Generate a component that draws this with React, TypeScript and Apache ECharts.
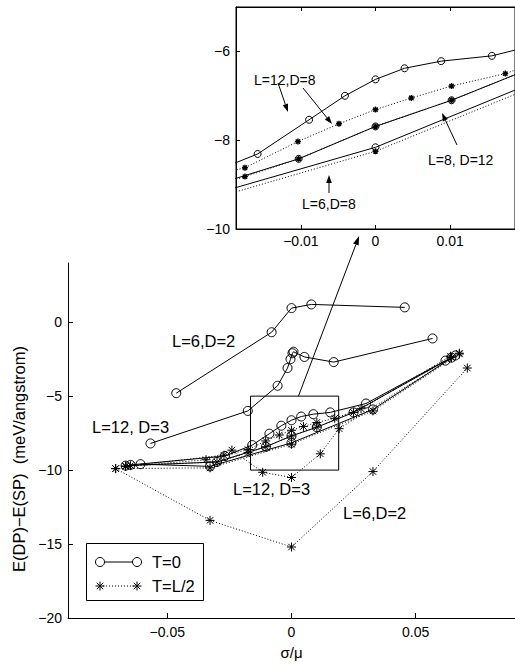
import React, { useEffect, useRef } from "react";
import * as echarts from "echarts";

// ---- tick values ----
const mainXTicks = [-0.05, 0, 0.05];
const mainYTicks = [-20, -15, -10, -5, 0];
const insetXTicks = [-0.01, 0, 0.01];
const insetYTicks = [-10, -8, -6];

// ---- T=0 (circles, solid) ----
const t0_L6D2 = [[-0.0464, -4.8], [-0.008, -0.68], [0, 0.95], [0.008, 1.2], [0.0456, 1.0]];
const t0_L12D3 = [[-0.0568, -8.2], [-0.0176, -6.0], [-0.0056, -4.3], [-0.0016, -3.1], [-0.0004, -2.5], [0.0004, -2.1], [0.0008, -2.0], [0.0052, -2.35], [0.017, -2.7], [0.0568, -1.1]];
const t0_L12D8 = [[-0.0648, -9.65], [-0.0268, -9.05], [-0.0158, -8.31], [-0.0089, -7.54], [-0.0041, -7.0], [0, -6.63], [0.0039, -6.38], [0.0088, -6.22], [0.0156, -6.1], [0.03, -5.5], [0.062, -2.6]];
const t0_L8D12 = [[-0.0668, -9.7], [-0.03, -9.45], [-0.0103, -8.42], [0, -7.69], [0.0102, -7.1], [0.025, -6.1], [0.0644, -2.4]];
const t0_L6D8 = [[-0.0608, -9.6], [-0.0328, -9.75], [0, -8.16], [0.0328, -5.9], [0.066, -2.25]];

// ---- T=L/2 (stars, dotted) ----
const tH_L6D2 = [[-0.0708, -9.9], [-0.0328, -13.4], [0, -15.2], [0.0328, -10.1], [0.0708, -3.1]];
const tH_L12D3 = [[-0.0668, -9.75], [-0.0344, -9.3], [-0.024, -8.65], [-0.0116, -10.15], [0, -10.5], [0.0116, -8.9], [0.0192, -7.2], [0.0676, -2.1]];
const tH_L12D8 = [[-0.0648, -9.7], [-0.0272, -9.0], [-0.0175, -8.62], [-0.0104, -8.03], [-0.0049, -7.63], [0, -7.31], [0.0048, -7.05], [0.0102, -6.78], [0.0174, -6.5], [0.028, -5.85], [0.064, -2.3]];
const tH_L8D12 = [[-0.0668, -9.72], [-0.03, -9.45], [-0.0175, -8.82], [-0.0103, -8.42], [0, -7.69], [0.0102, -7.1], [0.025, -6.1], [0.0644, -2.4]];
const tH_L6D8 = [[-0.0708, -9.9], [-0.0328, -9.85], [0, -8.25], [0.0328, -6.0], [0.0676, -2.15]];

// zoom rectangle [xmin, xmax, ymin, ymax]
const zoomBox = [-0.0165, 0.019, -10, -5];

const FONT = "'Liberation Sans', Arial, Helvetica, sans-serif";
const STAR = "path://M0,-5L0,5M-5,0L5,0M-3.6,-3.6L3.6,3.6M-3.6,3.6L3.6,-3.6";

const fmt = (v: number) => (v === 0 ? "0" : (v < 0 ? "\u2212" : "") + String(Math.abs(v)));

function circleSeries(data: number[][], gi: number, size: number) {
  return {
    type: "line",
    data,
    xAxisIndex: gi === 0 ? 0 : 1,
    yAxisIndex: gi,
    symbol: "circle",
    symbolSize: size,
    showAllSymbol: true,
    itemStyle: { color: "rgba(0,0,0,0)", borderColor: "#000", borderWidth: 1 },
    lineStyle: { color: "#000", width: 1, type: "solid" },
    silent: true,
    clip: true,
    z: 3,
  };
}
function starSeries(data: number[][], gi: number, size: number, lw: number) {
  return {
    type: "line",
    data,
    xAxisIndex: gi === 0 ? 0 : 1,
    yAxisIndex: gi,
    symbol: STAR,
    symbolSize: size,
    showAllSymbol: true,
    itemStyle: { color: "rgba(0,0,0,0)", borderColor: "#000", borderWidth: lw },
    lineStyle: { color: "#000", width: 1, type: [1, 2] },
    silent: true,
    clip: true,
    z: 3,
  };
}

function arrow(x1: number, y1: number, x2: number, y2: number, head = 8, w = 2.8) {
  const dx = x2 - x1, dy = y2 - y1, len = Math.hypot(dx, dy);
  const ux = dx / len, uy = dy / len;
  const bx = x2 - ux * head, by = y2 - uy * head;
  return [
    { type: "line", z: 10, shape: { x1, y1, x2: bx, y2: by }, style: { stroke: "#000", lineWidth: 1 } },
    { type: "polygon", z: 10, shape: { points: [[x2, y2], [bx - uy * w, by + ux * w], [bx + uy * w, by - ux * w]] }, style: { fill: "#000" } },
  ];
}
function starGlyph(cx: number, cy: number, r: number) {
  const d = r * 0.72;
  const segs = [[0, -r, 0, r], [-r, 0, r, 0], [-d, -d, d, d], [-d, d, d, -d]];
  return segs.map((s) => ({ type: "line", z: 12, shape: { x1: cx + s[0], y1: cy + s[1], x2: cx + s[2], y2: cy + s[3] }, style: { stroke: "#000", lineWidth: 1 } }));
}
function txt(text: string, x: number, y: number, align = "left", size = 14, rotation = 0) {
  return { type: "text", z: 12, x, y, rotation, style: { text, fill: "#000", font: `${size}px ${FONT}`, align, verticalAlign: "middle" } };
}

export default function App() {
  const ref = useRef<HTMLDivElement>(null);
  useEffect(() => {
    const chart = echarts.init(ref.current!, null, { renderer: "svg" });
    const axisCommon = {
      axisLine: { show: true, onZero: false, lineStyle: { color: "#000", width: 1 } },
      splitLine: { show: false },
    };
    const option: any = {
      animation: false,
      backgroundColor: "#fff",
      grid: [
        { left: 68, top: 263, width: 450, height: 355 },
        { left: 236, top: 7, width: 282, height: 222, show: true, backgroundColor: "#fff", borderColor: "#000", borderWidth: 1 },
      ],
      xAxis: [
        {
          type: "value", gridIndex: 0, min: -0.09, max: 0.09, ...axisCommon,
          axisTick: { show: true, inside: true, length: 5, lineStyle: { color: "#000" }, customValues: mainXTicks },
          axisLabel: { color: "#000", fontSize: 14, fontFamily: FONT, margin: 7, customValues: mainXTicks, formatter: fmt },
        },
        {
          type: "value", gridIndex: 1, min: -0.0187, max: 0.0187, ...axisCommon,
          axisTick: { show: true, inside: true, length: 4, lineStyle: { color: "#000" }, customValues: insetXTicks },
          axisLabel: { color: "#000", fontSize: 14, fontFamily: FONT, margin: 5, customValues: insetXTicks, formatter: fmt },
        },
        {
          type: "value", gridIndex: 1, position: "top", min: -0.0187, max: 0.0187, ...axisCommon,
          axisTick: { show: true, inside: true, length: 4, lineStyle: { color: "#000" }, customValues: insetXTicks },
          axisLabel: { show: false },
        },
      ],
      yAxis: [
        {
          type: "value", gridIndex: 0, min: -20, max: 4, ...axisCommon,
          axisTick: { show: true, inside: true, length: 5, lineStyle: { color: "#000" }, customValues: mainYTicks },
          axisLabel: { color: "#000", fontSize: 14, fontFamily: FONT, margin: 6, customValues: mainYTicks, formatter: fmt },
        },
        {
          type: "value", gridIndex: 1, min: -10, max: -5, ...axisCommon,
          axisTick: { show: true, inside: true, length: 4, lineStyle: { color: "#000" }, customValues: insetYTicks },
          axisLabel: { color: "#000", fontSize: 14, fontFamily: FONT, margin: 6, customValues: insetYTicks, formatter: fmt },
        },
      ],
      series: [
        // main
        circleSeries(t0_L6D2, 0, 9),
        circleSeries(t0_L12D3, 0, 9),
        circleSeries(t0_L12D8, 0, 9),
        circleSeries(t0_L8D12, 0, 9),
        circleSeries(t0_L6D8, 0, 9),
        starSeries(tH_L6D2, 0, 9, 1),
        starSeries(tH_L12D3, 0, 9, 1),
        starSeries(tH_L12D8, 0, 9, 1),
        starSeries(tH_L8D12, 0, 9, 1),
        starSeries(tH_L6D8, 0, 9, 1),
        {
          type: "line", xAxisIndex: 0, yAxisIndex: 0, symbol: "none", silent: true,
          data: [[zoomBox[0], zoomBox[3]], [zoomBox[1], zoomBox[3]], [zoomBox[1], zoomBox[2]], [zoomBox[0], zoomBox[2]], [zoomBox[0], zoomBox[3]]],
          lineStyle: { color: "#000", width: 1 }, z: 4,
        },
        // inset
        circleSeries(t0_L12D8, 1, 7),
        circleSeries(t0_L8D12, 1, 7),
        circleSeries(t0_L6D8, 1, 7),
        starSeries(tH_L12D8, 1, 6, 1.4),
        starSeries(tH_L8D12, 1, 6, 1.4),
        starSeries(tH_L6D8, 1, 6, 1.4),
      ],
    };
    chart.setOption(option);

    const p0 = (pt: number[]) => chart.convertToPixel({ gridIndex: 0 }, pt) as number[];
    const p1 = (pt: number[]) => chart.convertToPixel({ gridIndex: 1 }, pt) as number[];
    const a = p0([0.0028, zoomBox[3]]);
    const b = p1([-0.0022, -10.16]);

    const g: any[] = [];
    g.push(...arrow(a[0], a[1], b[0], b[1], 9, 3));
    // inset arrows
    g.push(...arrow(278, 83, 288, 112));
    g.push(...arrow(303, 88, 332, 124));
    g.push(...arrow(457, 145, 442, 113));
    g.push(...arrow(329, 193, 329, 175));
    // inset labels
    g.push(txt("L=12,D=8", 254, 80));
    g.push(txt("L=8, D=12", 428, 160));
    g.push(txt("L=6,D=8", 302, 204));
    // main labels
    g.push(txt("L=6,D=2", 172, 341, "left", 16.5));
    g.push(txt("L=12, D=3", 92, 427, "left", 16.5));
    g.push(txt("L=12, D=3", 233, 489, "left", 16.5));
    g.push(txt("L=6,D=2", 343, 513, "left", 16.5));
    // axis titles
    g.push(txt("E(DP)\u2212E(SP)  (meV/angstrom)", 19, 459, "center", 16.5, Math.PI / 2));
    g.push(txt("\u03c3/\u03bc", p0([0, 0])[0], 652, "center", 15));
    // legend
    g.push({ type: "rect", z: 11, shape: { x: 86.5, y: 543.5, width: 117, height: 57 }, style: { fill: "#fff", stroke: "#000", lineWidth: 1 } });
    g.push({ type: "line", z: 12, shape: { x1: 100, y1: 562, x2: 137, y2: 562 }, style: { stroke: "#000", lineWidth: 1 } });
    g.push({ type: "circle", z: 12, shape: { cx: 100, cy: 562, r: 4.5 }, style: { fill: "#fff", stroke: "#000", lineWidth: 1 } });
    g.push({ type: "circle", z: 12, shape: { cx: 137, cy: 562, r: 4.5 }, style: { fill: "#fff", stroke: "#000", lineWidth: 1 } });
    g.push(txt("T=0", 152, 562, "left", 16.5));
    g.push({ type: "line", z: 12, shape: { x1: 100, y1: 586, x2: 137, y2: 586 }, style: { stroke: "#000", lineWidth: 1, lineDash: [1, 2] } });
    g.push(...starGlyph(100, 586, 4.5));
    g.push(...starGlyph(137, 586, 4.5));
    g.push(txt("T=L/2", 152, 586, "left", 16.5));

    chart.setOption({ graphic: g });
    return () => chart.dispose();
  }, []);
  return <div ref={ref} style={{ position: "absolute", left: 0, top: 0, width: 515, height: 666 }} />;
}
